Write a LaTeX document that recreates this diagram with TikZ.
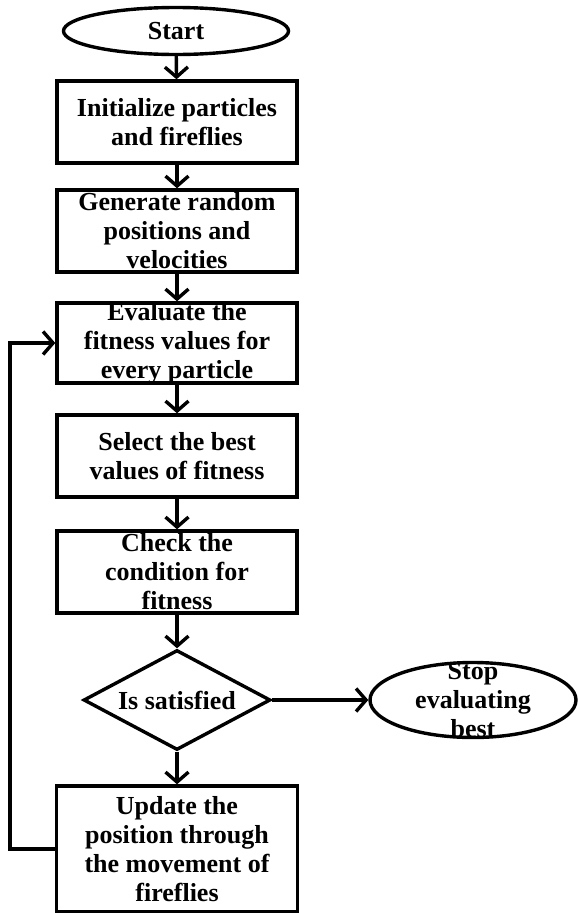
\documentclass[tikz,border=0pt]{standalone}
\usepackage{fontspec}
\setmainfont{Liberation Serif}
\usetikzlibrary{shapes.geometric,arrows.meta}
\begin{document}
\begin{tikzpicture}[x=1pt,y=-1pt,
  every node/.style={inner sep=0pt},
  txt/.style={align=center,font=\bfseries\fontsize{26}{29}\selectfont},
  boxnode/.style={draw,line width=3.4pt,rectangle,minimum width=240pt},
  ovalnode/.style={draw,line width=3.4pt,ellipse},
  decnode/.style={draw,line width=3.4pt,diamond},
  flow/.style={line width=3.4pt,-{Straight Barb[length=10pt,width=23pt,line width=3.4pt]}},
  link/.style={line width=3.4pt}]
\useasboundingbox (0,0) rectangle (578,913);
\node[ovalnode,minimum width=225pt,minimum height=47pt,
      label={[txt]center:Start}] (start) at (176,31) {};
\node[boxnode,minimum height=82pt,
      label={[txt]center:Initialize particles\\and fireflies}] (init) at (177,122) {};
\node[boxnode,minimum height=82pt,
      label={[txt]center:Generate random\\positions and\\velocities}] (gen) at (177,231) {};
\node[boxnode,minimum height=80pt,
      label={[txt]center:Evaluate the\\fitness values for\\every particle}] (eval) at (177,343) {};
\node[boxnode,minimum height=82pt,
      label={[txt]center:Select the best\\values of fitness}] (sel) at (177,456) {};
\node[boxnode,minimum height=82pt,
      label={[txt]center:Check the\\condition for\\fitness}] (check) at (177,572) {};
\node[decnode,minimum width=187pt,minimum height=100pt,
      label={[txt]center:Is satisfied}] (dec) at (177,700) {};
\node[ovalnode,minimum width=206pt,minimum height=75pt,
      label={[txt]center:Stop\\evaluating\\best}] (stop) at (473,700) {};
\node[boxnode,minimum width=241pt,minimum height=126pt,
      label={[txt]center:Update the\\position through\\the movement of\\fireflies}] (upd) at (177,849) {};
\coordinate (back) at (10,849);
\draw[flow] (start) -- (init);
\draw[flow] (init) -- (gen);
\draw[flow] (gen) -- (eval);
\draw[flow] (eval) -- (sel);
\draw[flow] (sel) -- (check);
\draw[flow] (check) -- (dec);
\draw[flow] (dec) -- (stop);
\draw[flow] (dec) -- (upd);
\draw[flow] (upd.west) -- (back) |- (eval.west);
\end{tikzpicture}
\end{document}
